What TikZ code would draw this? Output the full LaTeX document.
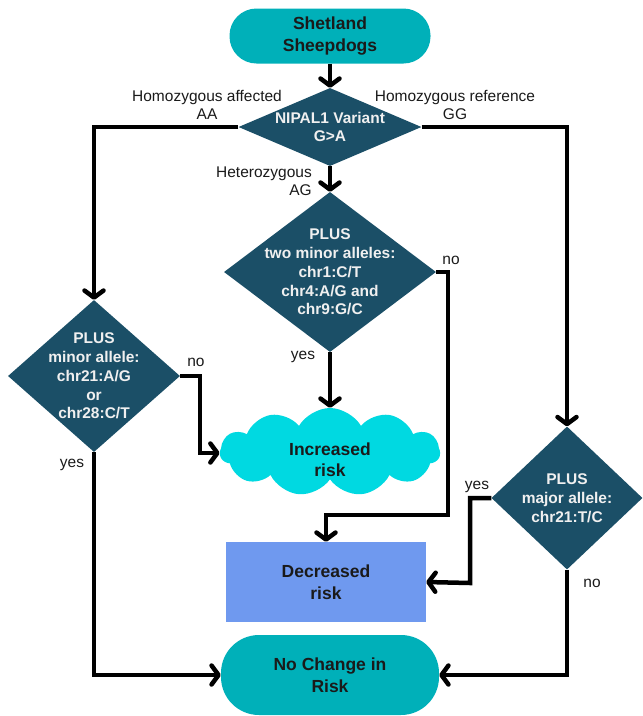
\documentclass[tikz,border=0pt]{standalone}
\usepackage{fontspec}
\setmainfont{Liberation Sans}
\usetikzlibrary{shapes.geometric,shapes.symbols,arrows.meta}
\definecolor{teal1}{HTML}{00B0B9}
\definecolor{dk}{HTML}{1B4F67}
\definecolor{cyan1}{HTML}{00D9E1}
\definecolor{blue1}{HTML}{6F99EF}
\definecolor{txt}{HTML}{1A1A1A}
\begin{document}
\begin{tikzpicture}[x=1pt,y=-1pt,
  term/.style={draw=none,fill=teal1,rounded corners=27pt,minimum width=201pt,minimum height=55pt,align=center,font=\fontsize{17.5}{21.5}\selectfont\bfseries,text=txt,inner sep=0pt},
  dec/.style={diamond,draw=none,fill=dk,align=center,text=white!94!black,font=\fontsize{15.5}{18.8}\selectfont\bfseries,inner sep=-30pt},
  lab/.style={font=\fontsize{15.5}{18}\selectfont,text=txt,align=center,inner sep=0pt},
  conn/.style={line width=4.5pt,black},
  arr/.style={conn,-{Straight Barb[length=7pt,width=19pt,line width=4.5pt,round]}}
]
\useasboundingbox (0,0) rectangle (643,716);
\node[term] (start) at (330,36) {Shetland\\Sheepdogs};
\node[dec,minimum width=183pt,minimum height=78pt] (d1) at (330,127) {NIPAL1 Variant\\G>A};
\node[dec,minimum width=212pt,minimum height=160pt] (d2) at (330,272) {PLUS\\two minor alleles:\\chr1:C/T\\chr4:A/G and\\chr9:G/C};
\node[dec,minimum width=172pt,minimum height=152pt] (d3) at (94,376) {PLUS\\minor allele:\\chr21:A/G\\or\\chr28:C/T};
\node[dec,minimum width=151pt,minimum height=143pt] (d4) at (567,498) {PLUS\\major allele:\\chr21:T/C};
\node[cloud,cloud puffs=11,cloud puff arc=120,aspect=2.4,cloud ignores aspect,fill=cyan1,draw=none,minimum width=220pt,minimum height=88pt,inner sep=0pt,align=center,font=\fontsize{17.5}{21.5}\selectfont\bfseries,text=txt] (inc) at (330,452) {\rule{0pt}{28pt}Increased\\risk};
\node[rectangle,fill=blue1,minimum width=200pt,minimum height=80pt,inner sep=0pt,align=center,font=\fontsize{17.5}{21.5}\selectfont\bfseries,text=txt] (decr) at (326,582) {Decreased\\risk};
\node[term,minimum width=218pt,minimum height=80pt,rounded corners=38pt] (nc) at (330,675) {No Change in\\Risk};
% labels
\node[lab] (l1) at (207,105) {Homozygous affected\\AA};
\node[lab] (l2) at (455,105) {Homozygous reference\\GG};
\node[lab,align=right,anchor=east] (l3) at (312,181) {Heterozygous\\AG};
\node[lab] (l4) at (451,260) {no};
\node[lab] (l5) at (303,357) {yes};
\node[lab] (l6) at (196,362) {no};
\node[lab] (l7) at (72,465) {yes};
\node[lab] (l8) at (477,487) {yes};
\node[lab] (l9) at (592,583) {no};
% coordinates
\coordinate (c1) at (448,515);
\coordinate (c2) at (200,453);
\coordinate (c3) at (470,583);
% connectors
\draw[arr] (start) -- (d1);
\draw[arr] (d1.west) -| (d3.north);
\draw[arr] (d1.east) -| (d4.north);
\draw[arr] (d1.south) -- (d2.north);
\draw[arr] (d2.south) -- (d2.south |- inc.north);
\draw[arr] (d2.east) -| (c1) -| (decr.north);
\draw[arr] (d3.east) -| (c2) -- (c2 -| inc.west);
\draw[arr] (d3.south) |- (nc.west);
\draw[arr] (d4.west) -| (c3) -- (decr.east);
\draw[arr] (d4.south) |- (nc.east);
\end{tikzpicture}
\end{document}
